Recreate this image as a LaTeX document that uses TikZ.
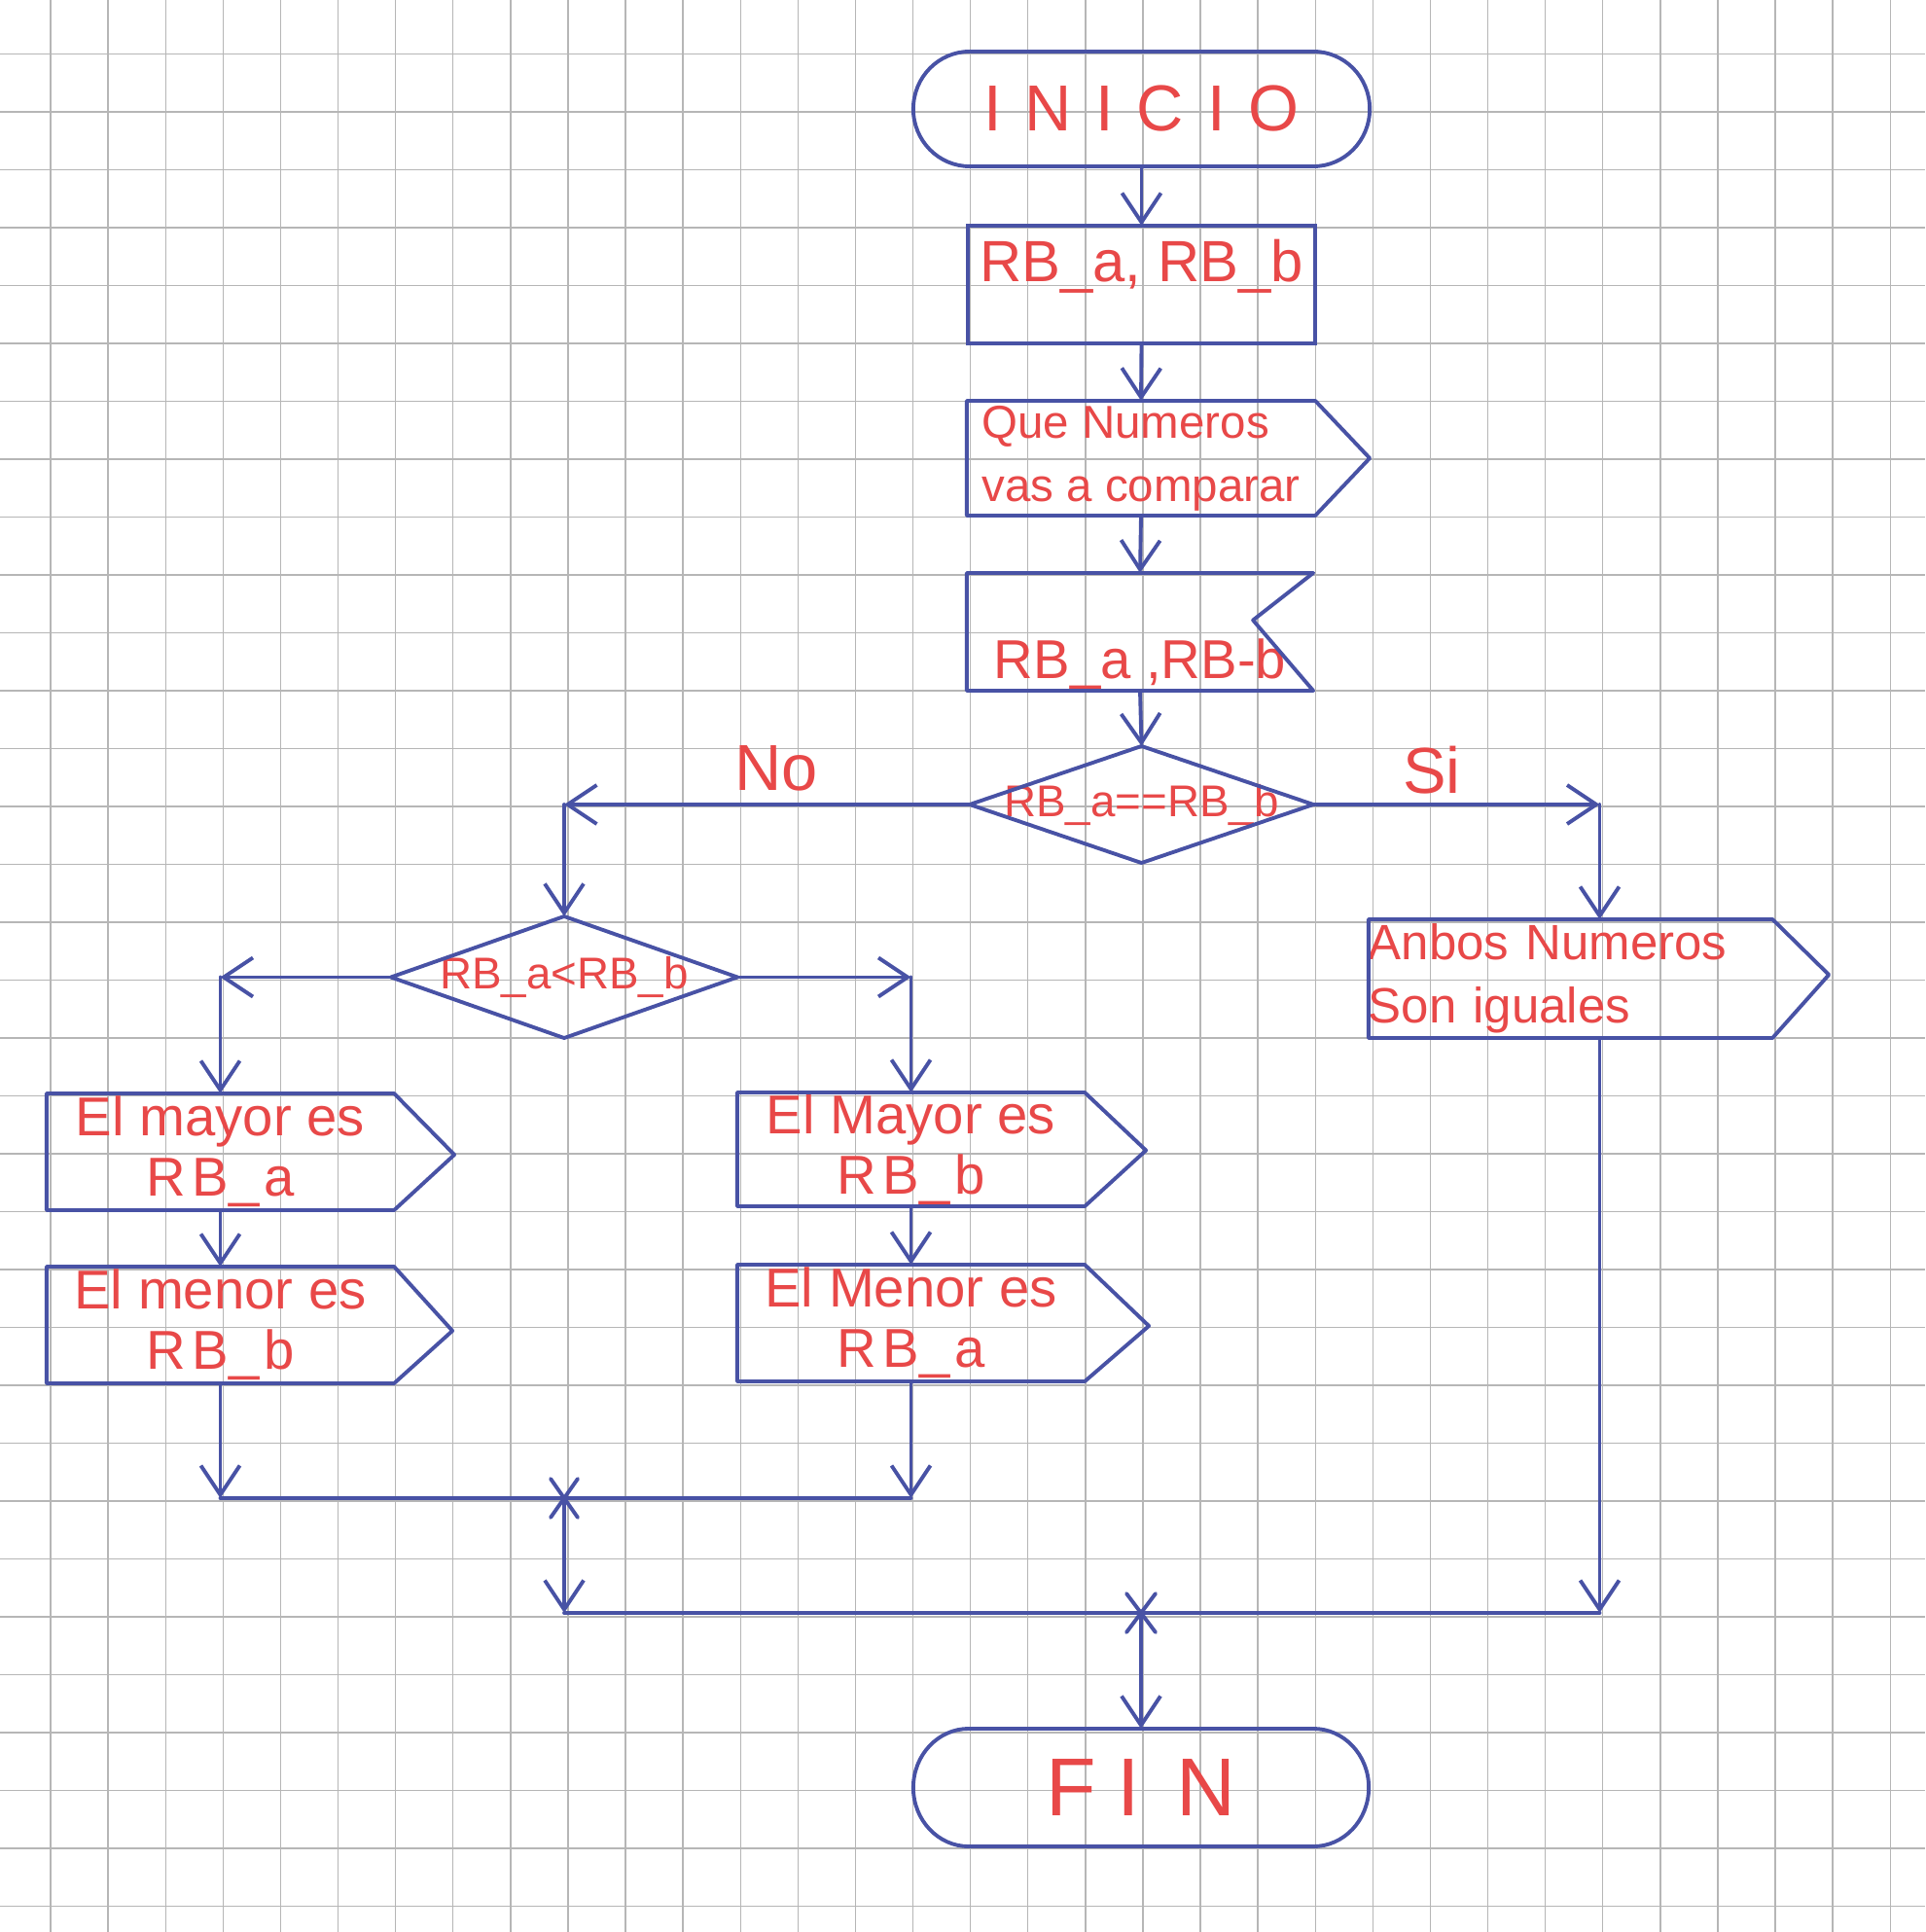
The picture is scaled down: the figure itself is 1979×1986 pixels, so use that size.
\documentclass[tikz,border=0pt]{standalone}
\usepackage{fontspec}
\setmainfont{Liberation Sans}
\usetikzlibrary{arrows.meta,calc}
\definecolor{penblue}{RGB}{72,82,165}
\definecolor{penred}{RGB}{232,72,72}
\definecolor{gridgray}{RGB}{182,182,182}
\begin{document}
\begin{tikzpicture}[x=0.01cm,y=-0.01cm,
  ln/.style={draw=penblue,line width=1.1pt,line cap=round,line join=round},
  arr/.style={ln,-{Straight Barb[length=3mm,width=4mm]}},
  shp/.style={inner sep=0pt,outer sep=0pt,text=penred,align=center},
  lbl/.style={inner sep=0pt,text=penred,font=\fontsize{19}{22}\selectfont},
  elbox/.style={shp,minimum width=3.57cm,minimum height=1.2cm,font=\fontsize{16}{17.6}\selectfont}
]
\useasboundingbox (0,0) rectangle (1979,1986);
\fill[white] (0,0) rectangle (1979,1986);
% graph paper
\foreach \i in {0,...,32} \draw[gridgray,line width=0.4pt] ({52+59.1*\i},0) -- ({52+59.1*\i},1986);
\foreach \j in {0,...,32} \draw[gridgray,line width=0.4pt] (0,{55.5+59.5*\j}) -- (1979,{55.5+59.5*\j});

% INICIO
\node[shp,minimum width=3.53cm,minimum height=1.18cm,font=\fontsize{19}{22}\selectfont] (inicio) at (1173.5,112)
  {I\kern.36em N\kern.36em I\kern.36em C\kern.36em I\kern.36em O};
\draw[ln] (inicio.north west) -- (inicio.north east)
  arc[start angle=90,end angle=-90,x radius=0.58cm,y radius=0.59cm] -- (inicio.south west)
  arc[start angle=270,end angle=90,x radius=0.58cm,y radius=0.59cm] -- cycle;

% data box
\node[shp,draw=penblue,line width=1.1pt,minimum width=3.57cm,minimum height=1.21cm,
  font=\fontsize{17}{20}\selectfont,text height=0.45cm,text depth=0.5cm] (rb1) at (1173.5,292.5) {RB\_a, RB\_b};

% output: Que Numeros
\node[shp,align=left,minimum width=3.58cm,minimum height=1.18cm,font=\fontsize{13.5}{18.5}\selectfont] (q) at (1173,471)
  {Que Numeros\\vas a comparar};
\draw[ln] (q.north west) -- (q.north east) -- ($(q.east)+(56,0)$) -- (q.south east) -- (q.south west) -- cycle;

% input box
\node[shp,minimum width=3.56cm,minimum height=1.21cm,font=\fontsize{16}{18}\selectfont,
  text height=0.95cm,text depth=0cm] (in3) at (1172,649.5) {RB\_a ,RB-b};
\draw[ln] (in3.north west) -- (in3.north east) -- ($(in3.east)+(-62,-12)$) -- (in3.south east) -- (in3.south west) -- cycle;

% decision 1
\node[shp,minimum width=3.53cm,minimum height=1.2cm,font=\fontsize{13}{15}\selectfont] (d1) at (1173.5,827) {RB\_a==RB\_b};
\draw[ln] (d1.north) -- (d1.east) -- (d1.south) -- (d1.west) -- cycle;

% decision 2
\node[shp,minimum width=3.56cm,minimum height=1.25cm,font=\fontsize{13}{15}\selectfont] (d2) at (580,1004.5) {RB\_a<RB\_b};
\draw[ln] (d2.north) -- (d2.east) -- (d2.south) -- (d2.west) -- cycle;

% Ambos
\node[shp,align=left,text width=4.15cm,minimum height=1.22cm,font=\fontsize{14.5}{18.5}\selectfont] (anbos) at (1614.5,1006)
  {Anbos Numeros\\Son iguales};
\draw[ln] (anbos.north west) -- (anbos.north east) -- ($(anbos.east)+(58,-4)$) -- (anbos.south east) -- (anbos.south west) -- cycle;

% left column
\node[elbox] (m1) at (226.5,1184) {El mayor es\\R\kern.12em B\_\kern.08em a};
\draw[ln] (m1.north west) -- (m1.north east) -- ($(m1.east)+(62,3)$) -- (m1.south east) -- (m1.south west) -- cycle;
\node[elbox] (m2) at (226.5,1362) {El menor es\\R\kern.12em B\_\kern.08em b};
\draw[ln] (m2.north west) -- (m2.north east) -- ($(m2.east)+(60,6)$) -- (m2.south east) -- (m2.south west) -- cycle;

% right column
\node[elbox,minimum height=1.17cm] (M1) at (936.5,1181.5) {El Mayor es\\R\kern.12em B\_\kern.08em b};
\draw[ln] (M1.north west) -- (M1.north east) -- ($(M1.east)+(63,1)$) -- (M1.south east) -- (M1.south west) -- cycle;
\node[elbox] (M2) at (936.5,1360) {El Menor es\\R\kern.12em B\_\kern.08em a};
\draw[ln] (M2.north west) -- (M2.north east) -- ($(M2.east)+(66,3)$) -- (M2.south east) -- (M2.south west) -- cycle;

% FIN
\node[shp,minimum width=3.54cm,minimum height=1.21cm,font=\fontsize{24}{28}\selectfont] (fin) at (1173,1837.5)
  {F\kern.25em I\kern.45em N};
\draw[ln] (fin.north west) -- (fin.north east)
  arc[start angle=90,end angle=-90,x radius=0.57cm,y radius=0.605cm] -- (fin.south west)
  arc[start angle=270,end angle=90,x radius=0.57cm,y radius=0.605cm] -- cycle;

% branch labels
\node[lbl] (no) at (798,790) {No};
\node[lbl] (si) at (1472,792) {Si};

% helper coordinates
\coordinate (cNo) at (d2.north |- d1.west);
\coordinate (cSi) at ($(anbos.north)+(30,0)$);
\coordinate (cSiTop) at (cSi |- d1.east);
\coordinate (cL) at (m1.north |- d2.west);
\coordinate (cR) at (M1.north |- d2.east);
\coordinate (x1) at (580,1540);
\coordinate (j1L) at (m2.south |- x1);
\coordinate (j1R) at (M2.south |- x1);
\coordinate (x2) at (fin.north |- 0,1658);
\coordinate (j2L) at (x1 |- x2);
\coordinate (aS) at ($(anbos.south)+(30,0)$);
\coordinate (j2R) at (aS |- x2);

% connectors
\draw[arr] (inicio.south) -- (rb1.north);
\draw[arr] (rb1.south) -- (q.north);
\draw[arr] (q.south) -- (in3.north);
\draw[arr] (in3.south) -- (d1.north);
\draw[arr] (d1.west) -- (cNo);
\draw[arr] (cNo) -- (d2.north);
\draw[arr] (d1.east) -- (cSiTop);
\draw[arr] (cSiTop) -- (cSi);
\draw[arr] (d2.west) -- (cL);
\draw[arr] (cL) -- (m1.north);
\draw[arr] (d2.east) -- (cR);
\draw[arr] (cR) -- (M1.north);
\draw[arr] (m1.south) -- (m2.north);
\draw[arr] (M1.south) -- (M2.north);
\draw[arr] (m2.south) -- (j1L);
\draw[arr] (M2.south) -- (j1R);
\draw[ln] (j1L) -- (j1R);
\draw[arr] (x1) -- (j2L);
\draw[arr] (aS) -- (j2R);
\draw[ln] (j2L) -- (j2R);
\draw[arr] (x2) -- (fin.north);

% junction crosses
\draw[ln] ($(x1)+(-14,-20)$) -- ($(x1)+(14,20)$) ($(x1)+(14,-20)$) -- ($(x1)+(-14,20)$);
\draw[ln] ($(x2)+(-15,-20)$) -- ($(x2)+(15,20)$) ($(x2)+(15,-20)$) -- ($(x2)+(-15,20)$);
\end{tikzpicture}
\end{document}
